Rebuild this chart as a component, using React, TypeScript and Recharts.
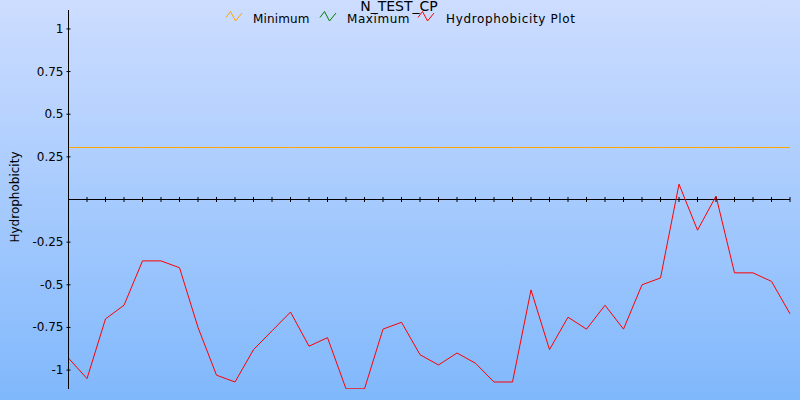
import React from "react";
import { LineChart, Line, XAxis, YAxis } from "recharts";

const positions: number[] = Array.from({ length: 40 }, (_, i) => i + 1);
const hydrophobicity: number[] = [
  -0.93, -1.05, -0.7, -0.62, -0.36, -0.36, -0.4, -0.75, -1.03, -1.07,
  -0.88, -0.77, -0.66, -0.86, -0.81, -1.11, -1.11, -0.76, -0.72, -0.91,
  -0.97, -0.9, -0.96, -1.07, -1.07, -0.53, -0.88, -0.69, -0.76, -0.62,
  -0.76, -0.5, -0.46, 0.09, -0.18, 0.02, -0.43, -0.43, -0.48, -0.67,
];
const minimumValue = 0.305;
const baselineValue = 0;
const yTicks: number[] = [-1, -0.75, -0.5, -0.25, 0.25, 0.5, 0.75, 1];
const legendLabels: string[] = ["Minimum", "Maximum", "Hydrophobicity Plot"];
const legendColors: string[] = ["#FFA500", "#008000", "#FF0000"];
const title = "N_TEST_CP";
const yLabel = "Hydrophobicity";

const data = positions.map((p, i) => ({
  pos: p,
  hyd: hydrophobicity[i],
  min: minimumValue,
  base: baselineValue,
}));

const FONT = "'DejaVu Sans', Verdana, sans-serif";

const YTick = (props: any) => {
  const { x, y, payload } = props;
  return (
    <g>
      <line x1={x - 2} x2={x + 2} y1={y} y2={y} stroke="#000" strokeWidth={1} />
      <text x={x - 5} y={y} dy={4} textAnchor="end" fontSize={12} fontFamily={FONT} fill="#000">
        {String(payload.value)}
      </text>
    </g>
  );
};

const TickDot = (props: any) => {
  const { cx, cy, index } = props;
  if (cx == null || cy == null) return <g key={index} />;
  return (
    <line key={index} x1={cx} x2={cx} y1={cy - 2.5} y2={cy + 2.5} stroke="#000" strokeWidth={1} />
  );
};

const iconXs = [226, 320, 418];
const textXs = [253, 347, 446];
const textWidths = [56.5, 62.5, 129];

export default function App() {
  return (
    <div
      style={{
        position: "absolute",
        left: 0,
        top: 0,
        width: 800,
        height: 400,
        background: "linear-gradient(to bottom, #CDDDFF 0%, #80B8FC 100%)",
        overflow: "hidden",
      }}
    >
      <LineChart
        width={800}
        height={400}
        data={data}
        margin={{ top: 10, right: 10, bottom: 11, left: 0.5 }}
      >
        <XAxis dataKey="pos" type="number" domain={[1, 40]} hide />
        <YAxis
          type="number"
          domain={[-1.111, 1.111]}
          ticks={yTicks}
          width={68}
          tickSize={0}
          tickMargin={0}
          tickLine={false}
          axisLine={{ stroke: "#000", strokeWidth: 1 }}
          tick={<YTick />}
          interval={0}
          allowDataOverflow
        />
        <Line
          dataKey="min"
          stroke="#FFA500"
          strokeWidth={1}
          dot={false}
          isAnimationActive={false}
        />
        <Line
          dataKey="base"
          stroke="#000"
          strokeWidth={1}
          dot={<TickDot />}
          isAnimationActive={false}
        />
        <Line
          dataKey="hyd"
          stroke="#FF0000"
          strokeWidth={1}
          dot={false}
          isAnimationActive={false}
          type="linear"
        />
      </LineChart>
      <svg
        width={800}
        height={400}
        style={{ position: "absolute", left: 0, top: 0, pointerEvents: "none" }}
      >
        <text x={399} y={11} textAnchor="middle" fontSize={14} fontFamily={FONT} fill="#000">
          {title}
        </text>
        {legendLabels.map((lab, i) => {
          const ix = iconXs[i];
          return (
            <g key={lab}>
              <polyline
                points={`${ix},17.5 ${ix + 4.5},11.5 ${ix + 9.5},21 ${ix + 16},13`}
                fill="none"
                stroke={legendColors[i]}
                strokeWidth={1}
              />
              <text
                x={textXs[i]}
                y={23}
                fontSize={12}
                fontFamily={FONT}
                fill="#000"
                textLength={textWidths[i]}
                lengthAdjust="spacing"
              >
                {lab}
              </text>
            </g>
          );
        })}
        <text
          x={0}
          y={0}
          transform="translate(19,197) rotate(-90)"
          textAnchor="middle"
          fontSize={12}
          fontFamily={FONT}
          fill="#000"
        >
          {yLabel}
        </text>
      </svg>
    </div>
  );
}
